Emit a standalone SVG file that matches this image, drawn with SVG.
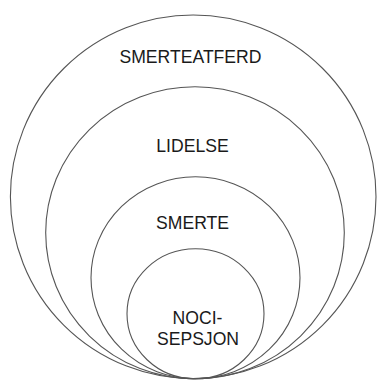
<svg xmlns="http://www.w3.org/2000/svg" width="377" height="380" viewBox="0 0 377 380">
  <style>
    .ring { fill: none; stroke: #555; stroke-width: 1.1; }
    .label { font-family: "Liberation Sans", Arial, sans-serif; font-size: 17.6px; fill: #1a1a1a; text-anchor: middle; }
  </style>
  <rect width="377" height="380" fill="#fff"/>
  <g id="smerteatferd">
    <ellipse class="ring" cx="193.2" cy="196.8" rx="182.8" ry="181.8"/>
    <text class="label" x="190.5" y="62.5">SMERTEATFERD</text>
  </g>
  <g id="lidelse">
    <ellipse class="ring" cx="195" cy="232.8" rx="149.3" ry="146"/>
    <text class="label" x="192.5" y="152">LIDELSE</text>
  </g>
  <g id="smerte">
    <ellipse class="ring" cx="195.5" cy="277.8" rx="104.5" ry="101"/>
    <text class="label" x="192.5" y="229">SMERTE</text>
  </g>
  <g id="nocisepsjon">
    <ellipse class="ring" cx="195.5" cy="313.8" rx="68.5" ry="65"/>
    <text class="label" x="197.5" y="324">NOCI-</text>
    <text class="label" x="198" y="345">SEPSJON</text>
  </g>
</svg>
